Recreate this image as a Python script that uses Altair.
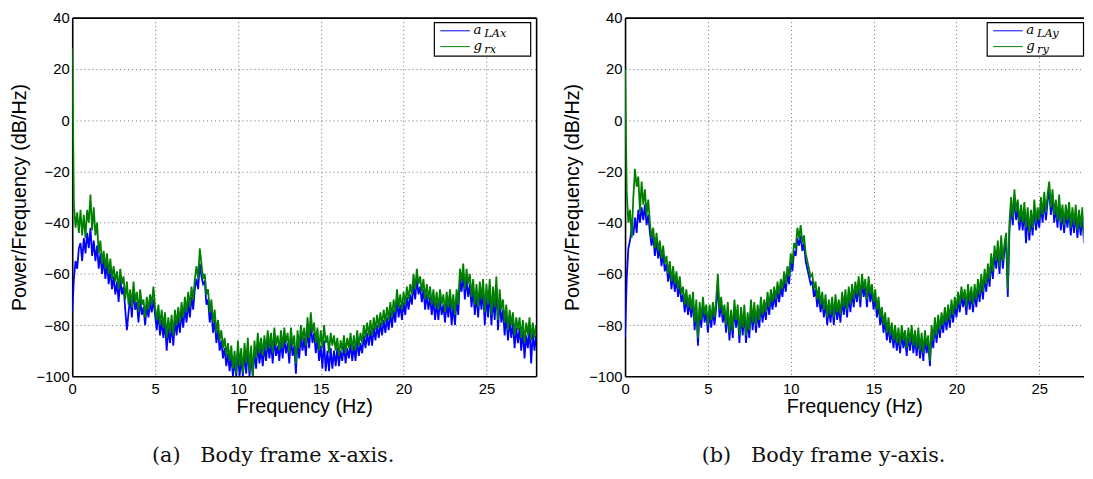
import altair as alt
import pandas as pd

# ---------------- data ----------------
FREQ_STEP = 0.1  # Hz between PSD bins (series start at 0 Hz)

X_TICKS = [0, 5, 10, 15, 20, 25]
Y_TICKS = [-100, -80, -60, -40, -20, 0, 20, 40]
X_TITLE = "Frequency (Hz)"
Y_TITLE = "Power/Frequency (dB/Hz)"
CAPTIONS = ["(a)\u00a0\u00a0\u00a0Body frame x-axis.", "(b)\u00a0\u00a0\u00a0Body frame y-axis."]
LEGEND_MAIN = [["a", "g"], ["a", "g"]]
LEGEND_SUB = [["LAx", "rx"], ["LAy", "ry"]]
X_MAX = [28, 27.67]

# left panel, g_rx (green)
G_X = [28,
 -33, -42, -36, -44,
 -35, -45, -37, -46, -35,
 -40, -29, -43, -34, -45,
 -40, -52, -47, -56, -51,
 -58, -52, -60, -54, -62,
 -57, -63, -59, -66, -58,
 -64, -61, -70, -63, -72,
 -66, -73, -63, -71, -67,
 -75, -66, -72, -70, -77,
 -69, -74, -68, -72, -65,
 -73, -78, -72, -80, -74,
 -81, -75, -85, -77, -83,
 -76, -84, -74, -80, -73,
 -79, -71, -77, -69, -75,
 -67, -73, -65, -70, -62,
 -57, -62, -50, -56, -62,
 -60, -68, -66, -75, -70,
 -79, -74, -83, -78, -86,
 -82, -89, -85, -92, -87,
 -94, -88, -97, -90, -99,
 -86, -96, -89, -99, -87,
 -95, -85, -98, -88, -100,
 -86, -93, -83, -91, -85,
 -92, -84, -90, -82, -89,
 -83, -91, -81, -88, -84,
 -90, -82, -89, -81, -87,
 -83, -91, -81, -88, -84,
 -95, -82, -89, -80, -86,
 -81, -88, -77, -85, -75,
 -83, -79, -87, -81, -90,
 -82, -89, -80, -87, -84,
 -91, -83, -88, -84, -90,
 -85, -92, -86, -90, -84,
 -91, -85, -89, -83, -90,
 -84, -90, -82, -88, -83,
 -87, -80, -85, -79, -84,
 -78, -84, -77, -82, -76,
 -81, -75, -80, -74, -79,
 -73, -78, -71, -77, -70,
 -75, -66, -73, -68, -74,
 -67, -72, -65, -70, -64,
 -68, -60, -66, -58, -64,
 -61, -67, -62, -70, -64,
 -70, -65, -72, -66, -73,
 -67, -74, -66, -72, -68,
 -75, -67, -73, -66, -74,
 -68, -76, -66, -72, -58,
 -63, -56, -66, -58, -64,
 -60, -69, -62, -72, -64,
 -73, -63, -70, -62, -75,
 -64, -72, -62, -76, -65,
 -73, -61, -78, -66, -74,
 -70, -79, -72, -82, -74,
 -80, -75, -84, -77, -82,
 -77, -85, -78, -87, -79,
 -84, -77, -86, -79, -85,
 -80]

# left panel, a_LAx (blue)
A_X = [-75,
 -62, -55, -58, -50,
 -48, -55, -46, -52, -44,
 -50, -42, -53, -47, -55,
 -49, -58, -52, -60, -54,
 -62, -56, -64, -58, -66,
 -61, -68, -63, -71, -62,
 -68, -65, -74, -82, -75,
 -69, -77, -66, -74, -71,
 -79, -70, -76, -73, -80,
 -72, -77, -71, -75, -70,
 -76, -82, -75, -84, -78,
 -85, -79, -90, -81, -87,
 -80, -88, -78, -84, -77,
 -83, -75, -81, -73, -79,
 -71, -77, -69, -74, -66,
 -62, -66, -56, -61, -64,
 -63, -72, -70, -79, -74,
 -83, -78, -87, -82, -90,
 -86, -93, -89, -96, -91,
 -98, -92, -100, -94, -100,
 -90, -100, -93, -100, -91,
 -99, -89, -100, -92, -100,
 -90, -97, -87, -95, -89,
 -96, -88, -94, -86, -93,
 -87, -95, -85, -92, -88,
 -94, -86, -93, -85, -91,
 -87, -95, -85, -92, -88,
 -99, -86, -93, -84, -90,
 -85, -92, -81, -89, -80,
 -87, -83, -91, -85, -94,
 -88, -97, -86, -98, -90,
 -98, -89, -97, -90, -96,
 -89, -96, -90, -94, -88,
 -95, -89, -93, -87, -94,
 -88, -94, -86, -92, -87,
 -91, -84, -89, -83, -88,
 -82, -88, -81, -86, -80,
 -85, -79, -84, -78, -83,
 -77, -82, -75, -81, -74,
 -79, -70, -77, -72, -78,
 -71, -76, -69, -74, -68,
 -72, -64, -70, -62, -68,
 -65, -71, -66, -74, -68,
 -74, -69, -76, -70, -78,
 -71, -78, -70, -76, -72,
 -79, -71, -77, -70, -80,
 -72, -80, -70, -76, -62,
 -67, -60, -70, -62, -69,
 -64, -73, -66, -76, -68,
 -77, -67, -74, -66, -80,
 -68, -77, -66, -80, -69,
 -78, -65, -82, -70, -79,
 -74, -84, -76, -86, -78,
 -85, -79, -89, -81, -87,
 -81, -90, -82, -93, -84,
 -89, -81, -95, -83, -90,
 -84]

# right panel, g_ry (green)
G_Y = [20,
 -28, -40, -35, -46,
 -30, -19, -26, -22, -36,
 -24, -33, -27, -37, -31,
 -40, -46, -42, -50, -44,
 -51, -47, -54, -49, -56,
 -53, -60, -55, -63, -57,
 -64, -59, -66, -61, -68,
 -65, -72, -66, -73, -68,
 -74, -67, -79, -70, -85,
 -71, -78, -69, -76, -72,
 -80, -72, -78, -71, -77,
 -70, -60, -74, -69, -76,
 -72, -80, -71, -83, -74,
 -82, -70, -78, -72, -84,
 -73, -81, -72, -84, -75,
 -82, -70, -79, -71, -80,
 -72, -78, -69, -76, -70,
 -75, -67, -73, -66, -71,
 -65, -70, -63, -68, -62,
 -66, -59, -64, -57, -61,
 -52, -56, -48, -50, -42,
 -46, -41, -48, -45, -52,
 -55, -58, -61, -60, -66,
 -63, -70, -65, -72, -67,
 -74, -68, -77, -70, -76,
 -69, -77, -68, -75, -70,
 -76, -67, -73, -66, -74,
 -65, -72, -64, -70, -63,
 -68, -61, -70, -60, -66,
 -62, -70, -61, -68, -64,
 -71, -66, -74, -69, -77,
 -73, -80, -75, -83, -77,
 -84, -79, -86, -80, -87,
 -81, -88, -80, -86, -82,
 -89, -81, -87, -80, -88,
 -82, -89, -81, -90, -83,
 -91, -82, -88, -84, -94,
 -80, -86, -77, -84, -76,
 -82, -75, -80, -73, -79,
 -72, -78, -70, -76, -69,
 -74, -67, -72, -65, -70,
 -66, -73, -64, -71, -65,
 -72, -64, -70, -62, -68,
 -60, -67, -58, -64, -56,
 -62, -52, -59, -49, -55,
 -47, -57, -45, -55, -48,
 -44, -66, -40, -30, -38,
 -27, -36, -31, -40, -33,
 -40, -32, -42, -34, -44,
 -35, -42, -31, -40, -34,
 -39, -30, -37, -28, -36,
 -29, -24, -34, -27, -37,
 -31, -39, -29, -40, -33,
 -41, -33, -39, -32, -42,
 -34, -41, -33, -43, -35,
 -42, -34, -45, -36, -47,
 -38]

# right panel, a_LAy (blue)
A_Y = [-85,
 -62, -50, -47, -42,
 -45, -38, -44, -35, -40,
 -34, -39, -33, -41, -37,
 -44, -49, -45, -53, -47,
 -54, -50, -57, -52, -59,
 -56, -63, -58, -66, -60,
 -67, -62, -69, -64, -71,
 -68, -75, -69, -76, -71,
 -77, -70, -82, -73, -88,
 -74, -81, -72, -79, -75,
 -83, -75, -81, -74, -80,
 -73, -64, -77, -72, -79,
 -75, -83, -74, -86, -77,
 -85, -73, -81, -75, -87,
 -76, -84, -75, -87, -78,
 -85, -73, -82, -74, -83,
 -75, -81, -72, -79, -73,
 -78, -70, -76, -69, -74,
 -68, -73, -66, -71, -65,
 -69, -62, -67, -60, -64,
 -55, -59, -51, -53, -46,
 -49, -45, -51, -48, -55,
 -58, -61, -64, -63, -69,
 -66, -73, -68, -75, -70,
 -77, -71, -80, -73, -79,
 -72, -80, -71, -78, -73,
 -79, -70, -76, -69, -77,
 -68, -75, -67, -73, -66,
 -71, -64, -73, -63, -69,
 -65, -73, -64, -71, -67,
 -74, -69, -77, -72, -80,
 -76, -83, -78, -86, -80,
 -87, -82, -89, -83, -90,
 -84, -91, -83, -89, -85,
 -92, -84, -90, -83, -91,
 -85, -92, -84, -93, -86,
 -94, -85, -91, -87, -96,
 -83, -89, -80, -87, -79,
 -85, -78, -83, -76, -82,
 -75, -81, -73, -79, -72,
 -77, -70, -75, -68, -73,
 -69, -76, -67, -74, -68,
 -75, -67, -73, -65, -71,
 -63, -70, -61, -67, -59,
 -65, -55, -62, -52, -58,
 -50, -60, -48, -58, -51,
 -47, -69, -43, -33, -41,
 -30, -39, -34, -43, -36,
 -43, -35, -48, -37, -47,
 -38, -45, -34, -43, -37,
 -42, -33, -40, -31, -39,
 -32, -27, -37, -30, -40,
 -34, -42, -32, -43, -36,
 -44, -36, -42, -35, -45,
 -37, -44, -36, -46, -38,
 -45, -37, -48, -39, -50,
 -41]

# ---------------- styling ----------------
BLUE = "#0000ff"
GREEN = "#008000"
W_PANELS = [469.5, 464]
H = 363
AXIS_FONT = "Liberation Sans"
CAPTION_FONT = "DejaVu Serif"
LEGEND_FONT = "DejaVu Serif"
LINE_W = 1.8


def series_df(vals):
    return pd.DataFrame({"f": [round(i * FREQ_STEP, 2) for i in range(len(vals))], "v": vals})


def panel(a_vals, g_vals, xmax, width, mains, subs, caption, right_frame):
    xs = alt.Scale(domain=[0, xmax], nice=False, zero=False)
    ys = alt.Scale(domain=[-100, 40], nice=False, zero=False)
    blue = alt.Chart(series_df(a_vals)).mark_line(color=BLUE, strokeWidth=LINE_W, clip=True).encode(
        x=alt.X("f:Q", scale=xs,
                axis=alt.Axis(values=X_TICKS, title=X_TITLE, grid=True, labelFlush=False, orient="bottom")),
        y=alt.Y("v:Q", scale=ys,
                axis=alt.Axis(values=Y_TICKS, title=Y_TITLE, grid=True, orient="left")),
    )
    if right_frame:
        yax2 = alt.Axis(orient="right", labels=False, ticks=False, grid=False, title=None)
    else:
        yax2 = None
    green = alt.Chart(series_df(g_vals)).mark_line(color=GREEN, strokeWidth=LINE_W, clip=True).encode(
        x=alt.X("f:Q", scale=xs,
                axis=alt.Axis(orient="top", labels=False, ticks=False, grid=False, title=None)),
        y=alt.Y("v:Q", scale=ys, axis=yax2),
    )
    one = pd.DataFrame({"k": [0]})
    box = alt.Chart(one).mark_rect(fill="white", stroke="black", strokeWidth=1.2).encode(
        x=alt.value(366.5), x2=alt.value(464), y=alt.value(5), y2=alt.value(39))
    layers = [blue, green, box]
    for i, (m, s, c) in enumerate(zip(mains, subs, [BLUE, GREEN])):
        ly = 13.3 + 16 * i
        layers.append(alt.Chart(one).mark_rule(color=c, strokeWidth=1).encode(
            x=alt.value(372.5), x2=alt.value(402.5), y=alt.value(ly)))
        layers.append(alt.Chart(one).mark_text(
            align="left", baseline="alphabetic", font=LEGEND_FONT, fontStyle="italic",
            fontSize=13.5, color="black").encode(
            x=alt.value(406), y=alt.value(ly + 3.0), text=alt.value(m)))
        layers.append(alt.Chart(one).mark_text(
            align="left", baseline="alphabetic", font=LEGEND_FONT, fontStyle="italic",
            fontSize=11.5, color="black").encode(
            x=alt.value(417), y=alt.value(ly + 6.0), text=alt.value(s)))
    return alt.layer(*layers).resolve_axis(x="independent", y="independent").properties(
        width=width, height=H,
        title=alt.TitleParams(caption, orient="bottom", anchor="middle", frame="bounds",
                              font=CAPTION_FONT, fontSize=21, fontWeight="normal",
                              color="#111111", offset=29),
    )


left = panel(A_X, G_X, X_MAX[0], W_PANELS[0], LEGEND_MAIN[0], LEGEND_SUB[0], CAPTIONS[0], True)
right = panel(A_Y, G_Y, X_MAX[1], W_PANELS[1], LEGEND_MAIN[1], LEGEND_SUB[1], CAPTIONS[1], False)

chart = alt.hconcat(left, right, spacing=26.5).properties(
    padding={"left": 2, "top": 0, "right": 0, "bottom": 0}
).configure_view(stroke=None).configure_axis(
    labelFont=AXIS_FONT, labelFontSize=15, labelColor="black",
    titleFont=AXIS_FONT, titleFontSize=20, titleFontWeight="normal", titleColor="black",
    domainColor="black", domainWidth=1.6,
    gridColor="#707070", gridDash=[1, 3], gridWidth=1, gridOpacity=1,
    ticks=False, tickSize=0,
).configure_axisX(labelPadding=5, titlePadding=1).configure_axisY(labelPadding=3, titlePadding=6)

chart.save("out.html", embed_options={"renderer": "svg", "actions": False})
